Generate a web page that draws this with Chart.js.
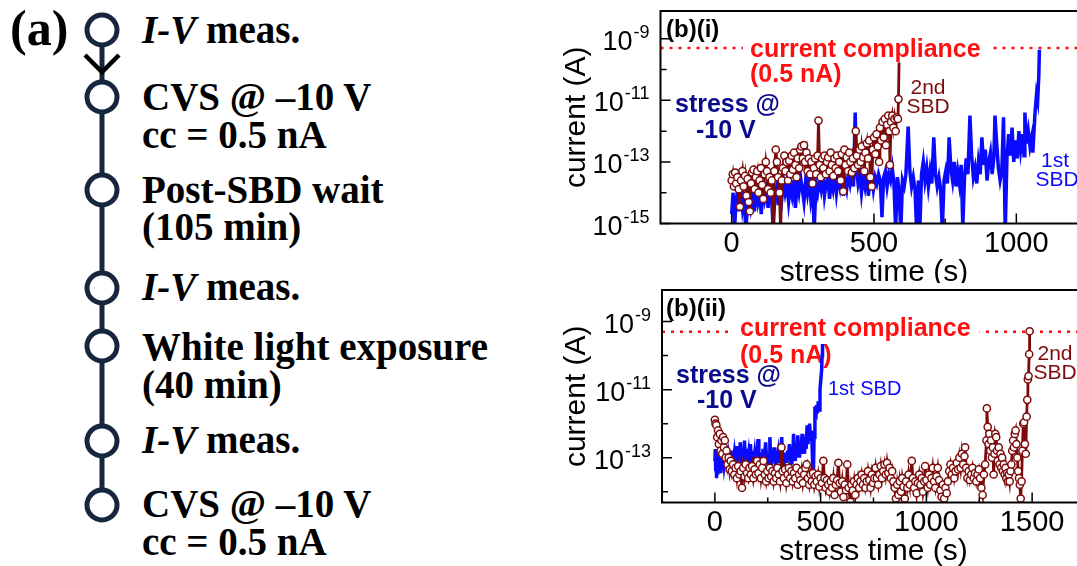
<!DOCTYPE html>
<html>
<head>
<meta charset="utf-8">
<script src="https://cdn.jsdelivr.net/npm/chart.js@4/dist/chart.umd.min.js"></script>
<style>
  html, body { margin: 0; padding: 0; background: #fff; }
  body { width: 1077px; height: 566px; overflow: hidden; position: relative; }
  #flow { position: absolute; left: 0; top: 0; }
  canvas { position: absolute; left: 540px; }
  #top { top: 0; }
  #bottom { top: 283px; }
</style>
</head>
<body>

<!-- (a) measurement sequence -->
<svg id="flow" width="540" height="566">
  <line x1="102" y1="30" x2="102" y2="505" stroke="#16263d" stroke-width="5"/>
  <polyline points="85,55 102,72 119,55" fill="none" stroke="#000" stroke-width="4.5"/>
  <g fill="#fff" stroke="#16263d" stroke-width="5">
    <circle cx="102" cy="30" r="15"/>
    <circle cx="102" cy="97" r="15"/>
    <circle cx="102" cy="190" r="15"/>
    <circle cx="102" cy="288" r="15"/>
    <circle cx="102" cy="346" r="15"/>
    <circle cx="102" cy="441" r="15"/>
    <circle cx="102" cy="505" r="15"/>
  </g>
  <g font-family="'Liberation Serif', 'Times New Roman', serif" font-weight="bold" font-size="39" fill="#000">
    <text x="10" y="45" font-size="50">(a)</text>
    <text x="142" y="43"><tspan font-style="italic">I-V</tspan> meas.</text>
    <text x="142" y="110">CVS @ –10 V</text>
    <text x="142" y="148">cc = 0.5 nA</text>
    <text x="142" y="203">Post-SBD wait</text>
    <text x="142" y="240">(105 min)</text>
    <text x="142" y="300"><tspan font-style="italic">I-V</tspan> meas.</text>
    <text x="142" y="360">White light exposure</text>
    <text x="142" y="398">(40 min)</text>
    <text x="142" y="453"><tspan font-style="italic">I-V</tspan> meas.</text>
    <text x="142" y="517">CVS @ –10 V</text>
    <text x="142" y="555">cc = 0.5 nA</text>
  </g>
</svg>

<canvas id="top" width="560" height="283"></canvas>
<canvas id="bottom" width="560" height="283"></canvas>

<script>
// (b)(i) stress time (s), current (A)
const topBlue = [[0,2e-15],[5,1e-14],[10,6e-16],[15,5e-15],[20,1e-14],[26,2.5e-15],[32,1.3e-14],[38,3.2e-15],[44,8e-15],[50,5e-16],[56,6.3e-15],[62,1.6e-14],[68,4e-15],[74,1e-14],[80,2.5e-15],[86,1.3e-14],[92,5e-15],[98,1e-14],[104,2e-15],[110,1.6e-14],[116,6.3e-15],[122,1.3e-14],[128,3.2e-15],[134,2e-14],[140,8e-15],[146,6e-16],[152,1e-14],[158,1.6e-14],[164,4e-15],[170,1.3e-14],[176,6.3e-15],[182,2.5e-14],[188,1e-14],[194,2e-14],[200,5e-15],[206,1.6e-14],[212,8e-15],[218,2.5e-14],[224,3.2e-15],[230,2e-14],[236,1e-14],[242,3.2e-14],[248,1.3e-14],[254,5e-15],[260,2.5e-14],[266,1e-14],[272,3.2e-14],[278,6.3e-15],[284,1.6e-14],[290,6e-16],[296,2e-14],[302,1e-14],[308,2.5e-14],[314,1.3e-14],[320,4e-14],[326,8e-15],[332,2e-14],[338,3.2e-14],[344,6.3e-15],[350,2.5e-14],[356,1.3e-14],[362,4e-14],[368,1e-14],[374,3.2e-14],[380,1.6e-14],[386,5e-14],[392,8e-15],[398,2.5e-14],[404,1.3e-14],[410,4e-14],[416,2e-14],[422,5e-14],[428,1.6e-14],[434,4e-12],[438,6.3e-14],[444,2e-14],[450,4e-14],[456,1e-14],[462,3.2e-14],[468,1.6e-14],[474,5e-14],[480,8e-15],[486,2.5e-14],[492,4e-14],[498,1.3e-14],[504,3.2e-14],[510,2e-14],[516,4e-14],[522,2.5e-14],[528,1.6e-15],[534,3.2e-14],[540,5e-14],[546,1.6e-14],[552,4e-14],[558,2.5e-14],[564,6.3e-14],[570,2e-14],[576,6e-16],[582,3.2e-14],[588,1.3e-14],[594,5e-16],[600,2.5e-14],[606,1.6e-14],[612,4e-14],[620,1.4e-12],[626,5e-14],[632,1.6e-14],[638,3.2e-14],[644,1.3e-14],[650,5e-16],[656,2.5e-14],[661,6e-16],[667,4e-14],[673,1e-13],[679,2.5e-14],[685,6.3e-14],[691,1.6e-14],[697,5e-14],[703,2e-14],[710,6.3e-13],[716,4e-14],[722,1.6e-14],[728,3.2e-14],[734,1.3e-14],[740,6e-16],[746,2.5e-14],[752,5e-14],[758,2e-14],[764,6.3e-13],[770,6.3e-14],[776,2.5e-14],[782,1e-13],[788,1.6e-14],[794,5e-14],[800,2e-14],[806,8e-14],[812,8e-16],[818,3.2e-14],[824,1.3e-13],[830,4e-14],[837,3.2e-12],[843,1.6e-13],[849,3.2e-14],[855,6.3e-14],[861,2e-14],[867,1e-13],[873,4e-14],[879,6.3e-13],[885,8e-14],[891,2.5e-13],[897,2.5e-14],[903,1e-13],[909,2e-13],[915,4e-14],[921,1.3e-13],[925,3.2e-12],[931,4e-13],[937,6.3e-14],[943,2.5e-14],[949,5e-14],[955,2.8e-12],[961,5e-16],[967,1.3e-13],[973,8e-13],[979,1.6e-13],[985,1.3e-12],[991,1e-13],[997,5e-13],[1003,1.3e-13],[1009,1e-12],[1015,2.5e-13],[1021,8e-13],[1027,1.6e-13],[1030,4e-12],[1036,4e-13],[1042,1e-12],[1048,3.2e-13],[1054,6.3e-13],[1058,2e-13],[1062,1e-12],[1066,4.5e-12],[1071,1.6e-11],[1075,1e-11],[1079,6.3e-11],[1081,4.4e-10]];

const topBrown = [[0,2.5e-14],[4,4e-14],[8,1.6e-14],[12,4.5e-14],[16,2e-14],[20,3.2e-14],[25,1.3e-14],[29,3.5e-15],[33,2.5e-14],[38,5e-14],[42,1.6e-14],[47,3.5e-14],[52,8e-15],[56,2.8e-14],[60,5e-15],[64,2.5e-15],[68,2e-14],[72,4.5e-14],[77,5.6e-14],[81,1.3e-14],[85,3.2e-14],[90,5e-14],[94,1e-14],[98,2.5e-14],[103,6.3e-14],[107,1.8e-14],[111,6.3e-15],[116,4e-14],[120,1e-13],[124,5e-14],[128,1.3e-14],[133,3.2e-14],[137,1e-14],[141,2.5e-14],[146,6e-16],[150,5e-14],[155,2.5e-13],[159,1e-13],[163,3.2e-14],[168,1e-14],[172,5e-16],[176,2.5e-14],[180,6.3e-14],[185,1.6e-13],[189,5e-14],[193,1e-13],[198,2.5e-14],[202,1.1e-13],[206,4e-14],[211,1.6e-13],[215,5.6e-14],[219,2e-13],[224,8e-14],[228,3.2e-14],[232,1.3e-13],[237,6.3e-14],[241,2.5e-13],[245,3.2e-13],[250,1.3e-13],[254,3.5e-13],[258,1e-13],[263,2e-13],[267,5e-14],[271,1.3e-13],[276,4e-14],[280,1e-13],[284,2e-14],[289,6.3e-14],[293,1.3e-13],[297,4e-14],[302,1.6e-13],[305,2.2e-12],[309,8e-14],[313,3.2e-14],[318,1.3e-13],[322,6.3e-14],[326,1.6e-13],[331,4e-14],[335,1e-13],[339,1.4e-13],[344,5e-14],[348,2e-13],[352,8e-14],[357,3.5e-14],[361,1.3e-13],[365,6.3e-14],[370,1.6e-13],[374,5e-14],[378,1e-13],[383,2.5e-14],[387,1.8e-13],[392,1.1e-14],[396,2.5e-13],[400,8e-14],[404,1.4e-13],[409,5e-14],[413,2e-13],[417,1e-13],[422,4.5e-14],[426,1.3e-13],[431,6.3e-14],[436,1e-12],[440,1.6e-13],[444,8e-14],[449,2.5e-13],[453,1e-13],[457,3.2e-13],[462,1.4e-13],[466,5e-14],[470,2e-13],[475,4e-13],[479,1.3e-13],[483,5e-13],[487,3.2e-14],[492,1.6e-14],[496,2.5e-13],[500,6.3e-13],[505,1.8e-13],[509,8e-13],[513,3.2e-13],[518,1e-13],[521,1.3e-12],[525,5e-13],[530,2e-12],[534,6.3e-13],[538,2.5e-12],[542,3.5e-13],[546,1.6e-12],[550,3.2e-12],[554,1e-12],[556,8e-14],[560,2e-12],[564,3.2e-12],[568,1.3e-12],[572,2.5e-12],[576,1e-12],[580,2.8e-12],[584,2.5e-12],[586,1.1e-11],[588,1.7e-10]];

// (b)(ii)
const bottomBlue = [[0,8e-14],[2,1.8e-13],[4,4e-14],[6,1e-13],[8,2.5e-14],[11,6.3e-14],[14,3.2e-14],[17,1.3e-13],[20,5e-14],[24,1e-13],[28,3.5e-14],[32,8e-14],[36,4.5e-14],[40,1.3e-13],[44,6.3e-14],[48,1e-13],[52,5e-14],[56,1.6e-13],[60,6.3e-14],[64,1e-13],[68,5.6e-14],[72,1.4e-13],[76,8e-14],[80,6.3e-14],[84,1.6e-13],[88,8e-14],[92,1.3e-13],[96,7e-14],[100,2.2e-13],[104,1e-13],[108,6.3e-14],[112,1.6e-13],[116,8e-14],[120,2.8e-13],[124,1e-13],[128,7e-14],[132,1.6e-13],[136,9e-14],[140,3.2e-13],[144,1e-13],[148,6.3e-14],[152,1.8e-13],[156,8e-14],[160,1.3e-13],[164,7e-14],[168,2.5e-13],[172,1e-13],[176,6.3e-14],[180,1.6e-13],[184,8e-14],[188,1.3e-13],[192,7e-14],[196,2e-13],[200,9e-14],[204,3.5e-13],[208,8e-14],[212,1.4e-13],[216,6.3e-14],[220,1.3e-13],[224,8e-14],[228,1.8e-13],[232,7e-14],[236,1.3e-13],[240,2.8e-13],[244,1e-13],[248,6.3e-14],[252,1.4e-13],[256,8e-14],[260,4e-13],[264,1e-13],[268,6.3e-14],[272,1.3e-13],[276,8e-14],[280,2e-13],[284,9e-14],[288,6.3e-14],[292,1.6e-13],[296,8e-14],[300,1.3e-13],[304,7e-14],[308,2.5e-13],[312,1e-13],[316,4e-13],[320,9e-14],[324,6.3e-14],[328,1.4e-13],[332,8e-14],[336,1.3e-13],[340,7e-14],[344,1.6e-13],[348,9e-14],[352,2.5e-13],[356,1e-13],[360,7e-14],[364,1.8e-13],[368,1e-13],[372,5e-13],[376,1.3e-13],[380,8e-14],[384,2e-13],[388,1e-13],[392,4.5e-13],[396,1.6e-13],[400,1e-13],[404,2.5e-13],[408,1.3e-13],[412,5e-13],[416,1.6e-13],[420,3.2e-13],[424,1.3e-13],[428,4e-13],[432,1.8e-13],[436,9e-13],[440,2.5e-13],[444,5e-13],[448,1e-12],[452,3.2e-13],[456,6.3e-13],[460,2e-13],[465,1.6e-14],[469,4e-13],[473,3.2e-12],[477,1.3e-12],[481,3.5e-12],[485,2e-12],[489,4.5e-12],[493,2.5e-12],[497,1e-11],[501,2e-11],[505,4e-11],[507,1e-10],[509,2.2e-10]];

const bottomBrown = [[0,1.3e-12],[3,1e-12],[7,9e-13],[11,4e-13],[15,6.3e-13],[19,2.5e-13],[23,5e-13],[27,1.6e-13],[31,3.2e-13],[35,1.3e-13],[39,4e-13],[43,2e-13],[47,3.2e-13],[51,1e-13],[55,1.6e-13],[60,6.3e-14],[65,1e-13],[70,4.5e-14],[75,8e-14],[80,4e-14],[86,6.3e-14],[92,3.2e-14],[98,5e-14],[104,2.5e-14],[110,5.6e-14],[116,3.2e-14],[122,4e-14],[128,1.3e-14],[134,5e-14],[140,2.8e-14],[146,6.3e-14],[152,3.5e-14],[158,2.5e-14],[164,5e-14],[170,3.2e-14],[176,5.6e-14],[182,2.5e-14],[188,4.5e-14],[194,3.2e-14],[200,8e-14],[206,3.5e-14],[212,6.3e-14],[218,2.5e-14],[224,5e-14],[230,8e-14],[236,3.2e-14],[242,2e-14],[248,4e-14],[254,2.5e-14],[260,5e-14],[266,2.8e-14],[272,4e-14],[278,2e-14],[284,3.5e-14],[290,2.5e-14],[296,5e-14],[302,3.2e-14],[308,2e-14],[315,2e-13],[320,4e-14],[326,2.5e-14],[332,4.5e-14],[338,1.8e-14],[344,3.2e-14],[350,5e-14],[356,2.5e-14],[362,4e-14],[368,2e-14],[374,3.5e-14],[380,2.5e-14],[386,5e-14],[392,1.6e-14],[398,3.2e-14],[404,2.2e-14],[410,4e-14],[416,1.8e-14],[422,3.2e-14],[428,5e-14],[434,6.3e-14],[440,2.5e-14],[446,1.6e-14],[452,3.2e-14],[458,2e-14],[464,3.5e-14],[470,1.6e-14],[476,2.8e-14],[482,2e-14],[488,3.2e-14],[494,1.4e-14],[500,2.5e-14],[506,1.8e-14],[513,8e-14],[518,2.5e-14],[524,1.3e-14],[530,2.2e-14],[536,1.6e-14],[542,1e-14],[548,2e-14],[554,1.3e-14],[560,2.5e-14],[566,8e-15],[572,1.6e-14],[578,2.2e-14],[584,7e-14],[590,1.8e-14],[596,1e-14],[602,2e-14],[608,7e-15],[614,1.6e-14],[620,1.1e-14],[626,6.3e-14],[632,1.3e-14],[641,5e-15],[646,1.6e-14],[652,1.1e-14],[658,2e-14],[664,8e-15],[670,1.6e-14],[676,2.5e-14],[682,1.3e-14],[688,2e-14],[694,3.2e-14],[700,1.6e-14],[706,2.5e-14],[712,1.3e-14],[718,2e-14],[724,4e-14],[730,2.2e-14],[736,1.3e-14],[742,3.2e-14],[748,1.8e-14],[754,2.5e-14],[760,5e-14],[766,2.5e-14],[772,1.6e-14],[778,3.2e-14],[784,5.6e-14],[790,2.5e-14],[796,4e-14],[802,6.3e-14],[808,3.2e-14],[814,7e-14],[820,3.5e-14],[826,5e-14],[832,2.5e-14],[838,4e-14],[844,2e-14],[850,1.3e-14],[856,6.3e-15],[862,1.6e-14],[868,8e-15],[874,2e-14],[880,1e-14],[886,2.5e-14],[892,1.4e-14],[898,6.3e-15],[904,2e-14],[910,1.3e-14],[916,3.2e-14],[922,1.6e-14],[931,8e-14],[936,2.5e-14],[942,1.3e-14],[948,2e-14],[954,9e-15],[960,1.8e-14],[966,3.2e-14],[972,1.6e-14],[978,2.5e-14],[984,1e-14],[990,2e-14],[994,5.6e-14],[1000,2.2e-14],[1006,1.3e-14],[1012,3.2e-14],[1018,1.6e-14],[1024,2.5e-14],[1030,5e-14],[1036,2e-14],[1042,1.3e-14],[1048,2.8e-14],[1054,5e-14],[1060,2.2e-14],[1066,1.1e-14],[1072,7e-15],[1078,1.6e-14],[1084,6.3e-15],[1090,1.3e-14],[1096,9e-15],[1102,2e-14],[1108,4e-14],[1114,6.3e-14],[1120,3.2e-14],[1126,5e-14],[1132,2.5e-14],[1138,4e-14],[1144,7e-14],[1150,4.5e-14],[1156,1e-13],[1162,5e-14],[1168,1.3e-13],[1174,6.3e-14],[1180,1.1e-13],[1183,2e-13],[1188,5e-14],[1194,2.5e-14],[1200,4e-14],[1206,2.2e-14],[1212,3.2e-14],[1218,5e-14],[1224,2.5e-14],[1230,3.5e-14],[1236,2e-14],[1242,3.2e-14],[1248,4.5e-14],[1254,2.5e-14],[1260,1.3e-14],[1266,8e-15],[1272,3.2e-14],[1278,6.3e-14],[1284,3.2e-13],[1286,2.8e-12],[1290,8e-13],[1294,2.5e-13],[1298,5e-13],[1302,1.6e-13],[1306,3.2e-13],[1310,1e-13],[1314,2e-13],[1318,3.2e-14],[1322,1.3e-13],[1326,5e-13],[1330,4e-13],[1334,1.6e-13],[1338,8e-14],[1342,2e-13],[1346,6.3e-14],[1350,1.3e-13],[1354,5e-14],[1358,1e-13],[1362,4e-14],[1366,6.3e-14],[1370,3.2e-14],[1374,5e-14],[1378,2.5e-14],[1382,3.5e-14],[1386,2e-14],[1390,3.2e-14],[1394,2e-14],[1398,4e-14],[1402,6.3e-14],[1406,1.6e-13],[1410,3.2e-13],[1414,2e-13],[1418,5e-13],[1422,6.3e-13],[1426,2.5e-13],[1430,1e-13],[1434,4e-14],[1438,2.5e-14],[1442,1.6e-14],[1446,6.3e-15],[1450,2e-14],[1454,1.6e-13],[1458,1e-12],[1462,1.1e-12],[1466,2.5e-13],[1470,1.3e-13],[1474,1.6e-12],[1477,5e-12],[1480,2e-11],[1483,2.5e-11],[1486,1.1e-10],[1488,5.2e-10]];

const compliance = 5e-10;

const topXTicks = [0, 500, 1000];
const topXMinor = [250, 750];
const bottomXTicks = [0, 500, 1000, 1500];
const bottomXMinor = [250, 750, 1250];
const topYTicks = [1e-9, 1e-11, 1e-13, 1e-15];
const topYExp = ['-9', '-11', '-13', '-15'];
const bottomYTicks = [1e-9, 1e-11, 1e-13];
const bottomYExp = ['-9', '-11', '-13'];
const yMinor = [1e-10, 1e-12, 1e-14];

const BLUE = '#0a0aff';
const BROWN = '#7d0a0a';
const NAVY = '#0a0a8c';
const RED = '#ff1010';
const SANS = '"Liberation Sans", Arial, sans-serif';

function toXY(rows) {
  return rows.map(r => ({ x: r[0], y: r[1] }));
}

function text(ctx, s, x, y, font, color, align) {
  ctx.font = font;
  ctx.fillStyle = color;
  ctx.textAlign = align || 'left';
  ctx.textBaseline = 'alphabetic';
  ctx.fillText(s, x, y);
}

// compliance line, labels, frame, ticks
function decor(o) {
  return {
    id: 'decor',
    beforeDatasetsDraw(chart) {
      const { ctx, chartArea: a, scales: { y } } = chart;
      const cy = y.getPixelForValue(compliance);
      ctx.save();
      ctx.strokeStyle = RED;
      ctx.lineWidth = 2.5;
      ctx.setLineDash([3, 6]);
      ctx.beginPath();
      ctx.moveTo(a.left, cy);
      ctx.lineTo(a.right, cy);
      ctx.stroke();
      ctx.setLineDash([]);

      // white box behind "current compliance"
      ctx.font = 'bold 25px ' + SANS;
      const w = ctx.measureText('current compliance').width;
      ctx.fillStyle = '#fff';
      ctx.fillRect(o.cc[0] - 7, o.cc[1] - 22, w + 16, 28);

      text(ctx, o.title, 126, o.titleY, 'bold 24px ' + SANS, '#000');
      text(ctx, 'current compliance', o.cc[0], o.cc[1], 'bold 25px ' + SANS, RED);
      text(ctx, '(0.5 nA)', o.cc[0], o.nA, 'bold 25px ' + SANS, RED);
      text(ctx, 'stress @', o.stress[0], o.stress[1], 'bold 25px ' + SANS, NAVY);
      text(ctx, '-10 V', o.stress[0] + 21, o.stress[2], 'bold 25px ' + SANS, NAVY);
      o.notes.forEach(n => text(ctx, n[0], n[1], n[2], n[5] + 'px ' + SANS, n[3], n[4]));
      ctx.restore();
    },
    afterDatasetsDraw(chart) {
      const { ctx, chartArea: a, scales: { x, y } } = chart;
      ctx.save();
      ctx.strokeStyle = '#000';
      ctx.lineWidth = 2;
      ctx.strokeRect(a.left, a.top, a.right - a.left, a.bottom - a.top);

      ctx.lineWidth = 1.5;
      ctx.beginPath();
      o.xTicks.forEach(v => { const p = x.getPixelForValue(v); ctx.moveTo(p, a.bottom); ctx.lineTo(p, a.bottom - 10); });
      o.xMinor.forEach(v => { const p = x.getPixelForValue(v); ctx.moveTo(p, a.bottom); ctx.lineTo(p, a.bottom - 5); });
      o.yTicks.forEach(v => { const p = y.getPixelForValue(v); ctx.moveTo(a.left, p); ctx.lineTo(a.left + 10, p); });
      yMinor.forEach(v => { const p = y.getPixelForValue(v); ctx.moveTo(a.left, p); ctx.lineTo(a.left + 6, p); });
      ctx.stroke();

      o.xTicks.forEach(v => text(ctx, String(v), x.getPixelForValue(v), a.bottom + 28.5, '29px ' + SANS, '#000', 'center'));
      text(ctx, 'stress time (s)', (a.left + a.right) / 2, a.bottom + 57, '30px ' + SANS, '#000', 'center');

      const right = a.left - 11;
      o.yTicks.forEach((v, i) => {
        const p = y.getPixelForValue(v);
        text(ctx, o.yExp[i], right, p - 1, '18px ' + SANS, '#000', 'right');
        const ew = ctx.measureText(o.yExp[i]).width;
        text(ctx, '10', right - ew - 1, p + 11, '27px ' + SANS, '#000', 'right');
      });

      ctx.translate(45, (a.top + a.bottom) / 2);
      ctx.rotate(-Math.PI / 2);
      text(ctx, 'current (A)', 0, 0, '30px ' + SANS, '#000', 'center');
      ctx.restore();
    }
  };
}

function makeChart(id, o) {
  const last = o.brown.length - 1;
  return new Chart(document.getElementById(id), {
    type: 'line',
    data: {
      datasets: [
        {
          label: '2nd SBD',
          data: toXY(o.brown),
          borderColor: BROWN,
          borderWidth: 2.8,
          pointRadius: c => (o.hideLast && c.dataIndex === last) ? 0 : 3.6,
          pointBackgroundColor: '#fff',
          pointBorderColor: BROWN,
          pointBorderWidth: 1.5,
          order: 1
        },
        {
          label: '1st SBD',
          data: toXY(o.blue),
          borderColor: BLUE,
          borderWidth: 3.5,
          pointRadius: 0,
          order: 2
        }
      ]
    },
    options: {
      responsive: false,
      animation: false,
      devicePixelRatio: 1,
      layout: { padding: o.pad },
      plugins: { legend: { display: false }, tooltip: { enabled: false } },
      elements: { line: { tension: 0 } },
      scales: {
        x: { type: 'linear', min: o.xMin, max: o.xMax, display: false },
        y: { type: 'logarithmic', min: o.yMin, max: o.yMax, display: false }
      }
    },
    plugins: [decor(o)]
  });
}

makeChart('top', {
  blue: topBlue, brown: topBrown, hideLast: true,
  xMin: -250, xMax: 1250, yMin: 1e-15, yMax: 8e-9,
  xTicks: topXTicks, xMinor: topXMinor, yTicks: topYTicks, yExp: topYExp,
  pad: { left: 120.5, top: 11, right: 12.5, bottom: 59.5 },
  title: '(b)(i)', titleY: 37,
  cc: [210, 56.5], nA: 82, stress: [135, 111.5, 138],
  notes: [['2nd', 388, 94, BROWN, 'center', 21], ['SBD', 388, 113, BROWN, 'center', 21],
          ['1st', 515, 167, BLUE, 'center', 21], ['SBD', 517, 186, BLUE, 'center', 21]]
});

makeChart('bottom', {
  blue: bottomBlue, brown: bottomBrown, hideLast: false,
  xMin: -250, xMax: 1750, yMin: 4.8e-15, yMax: 8.5e-9,
  xTicks: bottomXTicks, xMinor: bottomXMinor, yTicks: bottomYTicks, yExp: bottomYExp,
  pad: { left: 122, top: 7, right: 15, bottom: 63.5 },
  title: '(b)(ii)', titleY: 33,
  cc: [200, 53], nA: 80, stress: [136, 100, 125],
  notes: [['1st SBD', 288, 112, BLUE, 'left', 20],
          ['2nd', 515, 77, BROWN, 'center', 21], ['SBD', 515, 96, BROWN, 'center', 21]]
});
</script>
</body>
</html>
